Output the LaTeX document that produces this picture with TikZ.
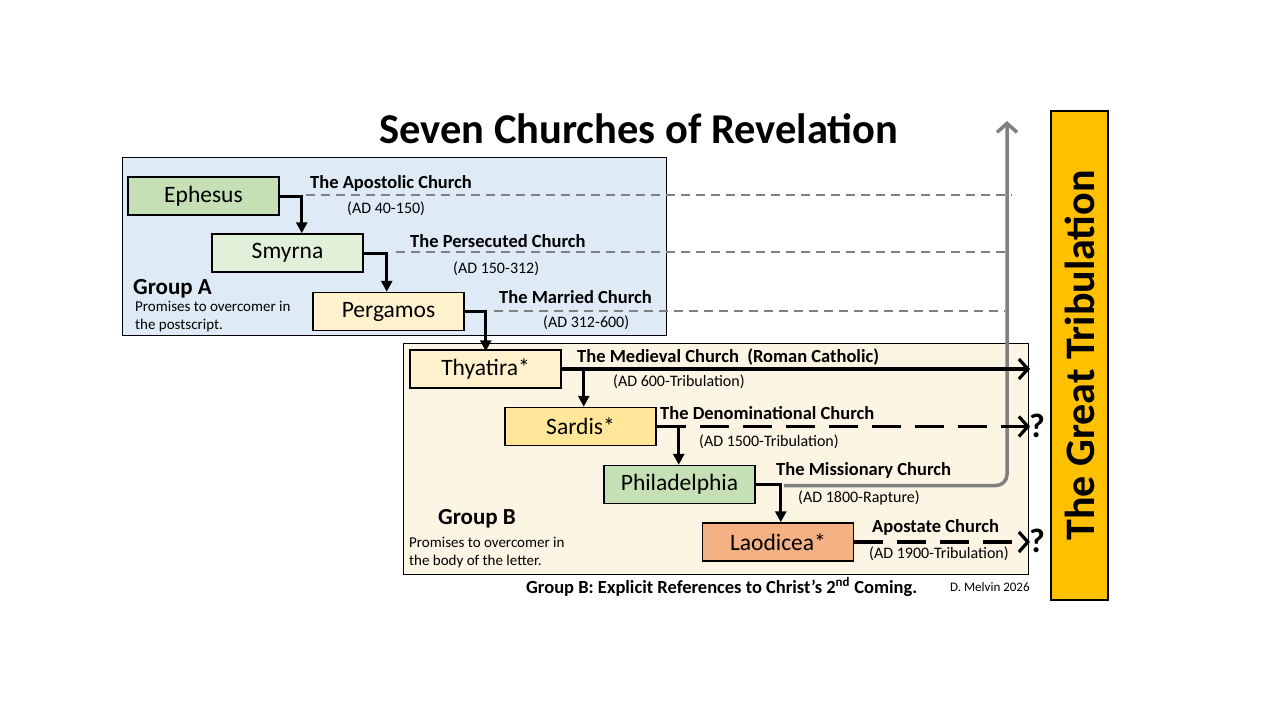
\documentclass[tikz,border=0pt]{standalone}
\usepackage{fontspec}
\setmainfont{Carlito}
\usetikzlibrary{arrows.meta}
\definecolor{grpA}{HTML}{DEEAF6}
\definecolor{grpB}{HTML}{FCF5E4}
\definecolor{cgreen}{HTML}{C5E0B4}
\definecolor{clgreen}{HTML}{E2F0D9}
\definecolor{cyellow}{HTML}{FFF2CC}
\definecolor{cgold}{HTML}{FFE699}
\definecolor{corange}{HTML}{F4B183}
\definecolor{ctrib}{HTML}{FFC000}
\definecolor{cgray}{HTML}{808080}
\tikzset{
  church/.style={draw=black, line width=1.5pt, minimum width=151pt, minimum height=38pt, inner sep=0pt, font=\fontsize{23.5}{26}\selectfont},
  grpbox/.style={draw=black, line width=0.8pt, inner sep=0pt},
  title/.style={inner sep=0pt, anchor=west, font=\bfseries\fontsize{18.5}{22}\selectfont},
  period/.style={inner sep=0pt, anchor=west, font=\fontsize{16}{18}\selectfont},
  grplabel/.style={inner sep=0pt, anchor=west, font=\bfseries\fontsize{23}{26}\selectfont},
  promise/.style={inner sep=0pt, anchor=north west, align=left, font=\fontsize{15}{17.5}\selectfont},
  conn/.style={line width=3pt, -{Triangle[length=11pt,width=11pt]}},
  longarrow/.style={line width=3.2pt, -{Straight Barb[length=9pt,width=20pt,line width=3.2pt]}},
  longdash/.style={line width=3.2pt, dash pattern=on 29pt off 14pt, -{Straight Barb[length=9pt,width=20pt,line width=3.2pt]}},
  gdash/.style={cgray, line width=2pt, dash pattern=on 9pt off 6pt},
  grayarrow/.style={cgray, line width=3.5pt, rounded corners=11pt, -{Straight Barb[length=9pt,width=20pt,line width=3.5pt]}},
  qmark/.style={inner sep=0pt, font=\bfseries\fontsize{34}{38}\selectfont},
}
\begin{document}
\begin{tikzpicture}[x=1pt,y=-1pt]
\useasboundingbox (0,0) rectangle (1280,720);
% title
\node[inner sep=0pt, font=\bfseries\fontsize{42.5}{48}\selectfont] (ttl) at (639,129) {Seven Churches of Revelation};
% group boxes
\node[grpbox, fill=grpA, minimum width=544pt, minimum height=178pt] (ga) at (394,246) {};
\node[grpbox, fill=grpB, minimum width=625pt, minimum height=231pt] (gb) at (715.5,458.5) {};
% tribulation
\node[draw=black, line width=2.2pt, fill=ctrib, rotate=90, minimum width=489pt, minimum height=57pt, inner sep=0pt, font=\bfseries\fontsize{42}{46}\selectfont] (trib) at (1079.5,355.5) {The Great Tribulation};
% churches
\node[church, fill=cgreen] (eph) at (203.5,196) {Ephesus};
\node[church, fill=clgreen] (smy) at (287.5,253) {Smyrna};
\node[church, fill=cyellow] (per) at (388.5,311.5) {Pergamos};
\node[church, fill=cyellow] (thy) at (485.5,369) {Thyatira*};
\node[church, fill=cgold] (sar) at (580.5,426.5) {Sardis*};
\node[church, fill=cgreen] (phi) at (679.5,484.5) {Philadelphia};
\node[church, fill=corange] (lao) at (778,542) {Laodicea*};
% bend points
\coordinate (b1) at ([xshift=22pt]eph.east);
\coordinate (b2) at ([xshift=23pt]smy.east);
\coordinate (b3) at ([xshift=21pt]per.east);
\coordinate (b4) at ([xshift=22pt]thy.east);
\coordinate (b5) at ([xshift=22pt]sar.east);
\coordinate (b6) at ([xshift=25pt]phi.east);
\coordinate (e1) at (1012,195);
\coordinate (e2) at (1005,252);
\coordinate (e3) at (1005,311);
\coordinate (tthy) at (1030,369);
\coordinate (tsar) at (1030,426.5);
\coordinate (tlao) at (1030,542);
\coordinate (gcorner) at (1007,485.5);
\coordinate (gtop) at (1007,121);
% gray dashed timelines
\draw[gdash] ([xshift=4pt]b1 |- e1) -- (e1);
\draw[gdash] ([xshift=9pt]b2 |- e2) -- (e2);
\draw[gdash] ([xshift=8pt]b3 |- e3) -- (e3);
% rapture arrow
\draw[grayarrow] ([xshift=3pt]b6 |- gcorner) -- (gcorner) -- (gtop);
% long arrows
\draw[longarrow] (thy.east) -- (tthy);
\draw[longdash] (sar.east) -- (tsar);
\draw[longdash] (lao.east) -- (tlao);
\node[qmark, anchor=west] (q1) at (1029,426) {?};
\node[qmark, anchor=west] (q2) at (1029,541) {?};
% connectors
\draw[conn] (eph.east) -- (b1) -- (b1 |- smy.north);
\draw[conn] (smy.east) -- (b2) -- (b2 |- per.north);
\draw[conn] (per.east) -- (b3) -- ([yshift=-2pt]b3 |- thy.north);
\draw[conn] (b4) -- (b4 |- sar.north);
\draw[conn] (sar.east) -- (b5) -- (b5 |- phi.north);
\draw[conn] (phi.east) -- (b6) -- (b6 |- lao.north);
% labels
\node[title] (l1) at (310,183) {The Apostolic Church};
\node[period] (p1) at (347,209) {(AD 40-150)};
\node[title] (l2) at (410,241) {The Persecuted Church};
\node[period] (p2) at (453,269) {(AD 150-312)};
\node[title] (l3) at (499,297) {The Married Church};
\node[period] (p3) at (543,323) {(AD 312-600)};
\node[title] (l4) at (577,357) {The Medieval Church\ \ (Roman Catholic)};
\node[period] (p4) at (613,382) {(AD 600-Tribulation)};
\node[title] (l5) at (660,413) {The Denominational Church};
\node[period] (p5) at (699,442) {(AD 1500-Tribulation)};
\node[title] (l6) at (776,470) {The Missionary Church};
\node[period] (p6) at (798,498) {(AD 1800-Rapture)};
\node[title] (l7) at (872,527) {Apostate Church};
\node[period] (p7) at (869,554) {(AD 1900-Tribulation)};
% group texts
\node[grplabel] (gal) at (133,289) {Group A};
\node[promise] (gap) at (135,301) {Promises to overcomer in\\the postscript.};
\node[grplabel] (gbl) at (438,519) {Group B};
\node[promise] (gbp) at (409,537) {Promises to overcomer in\\the body of the letter.};
\node[inner sep=0pt, anchor=west, font=\bfseries\fontsize{18.5}{22}\selectfont] (foot) at (526,587) {Group B: Explicit References to Christ’s 2\textsuperscript{nd} Coming.};
\node[inner sep=0pt, anchor=west, font=\fontsize{13}{16}\selectfont] (auth) at (950,587) {D. Melvin 2026};
\end{tikzpicture}
\end{document}
